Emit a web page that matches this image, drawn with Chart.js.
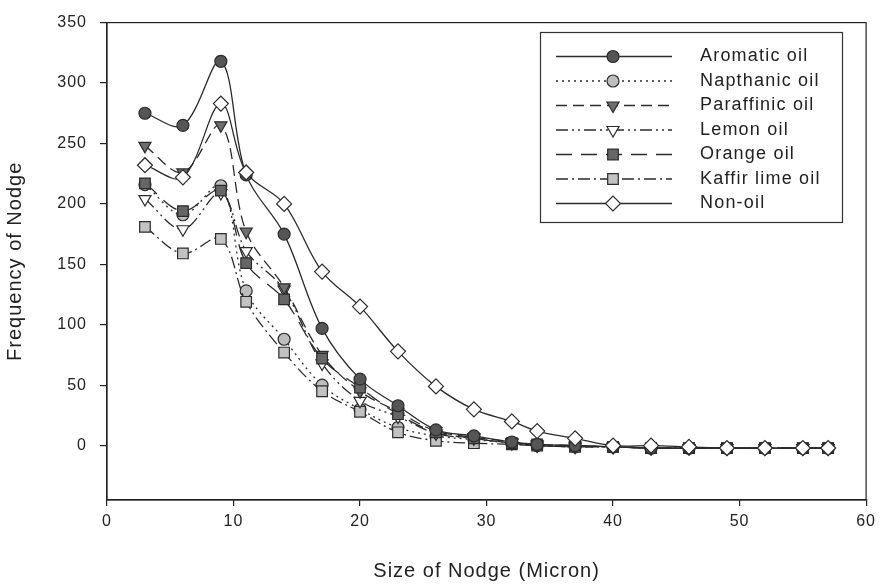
<!DOCTYPE html>
<html>
<head>
<meta charset="utf-8">
<script src="https://cdn.jsdelivr.net/npm/chart.js@4/dist/chart.umd.min.js"></script>
<style>
  html, body { margin: 0; padding: 0; background: #fff; }
  #wrap { width: 882px; height: 587px; position: relative; }
</style>
</head>
<body>
<div id="wrap"><canvas id="c"></canvas></div>
<script>
// Nodge size (micron) at which each frequency was counted
const sizes = [3, 6, 9, 11, 14, 17, 20, 23, 26, 29, 32, 34, 37, 40, 43, 46, 49, 52, 55, 57];

const seriesNames = ['Aromatic oil', 'Napthanic oil', 'Paraffinic oil', 'Lemon oil', 'Orange oil', 'Kaffir lime oil', 'Non-oil'];

const aromatic   = [275, 265, 318, 224, 175, 97, 55, 33, 13, 8, 3, 1, 0, -1, -2, -2, -2, -2, -2, -2];
const napthanic  = [216, 191, 215, 128, 88, 50, 30, 15, 8, 5, 2, 0, -1, -1, -2, -2, -2, -2, -2, -2];
const paraffinic = [248, 226, 265, 177, 131, 75, 45, 28, 12, 7, 3, 1, 0, -1, -2, -2, -2, -2, -2, -2];
const lemon      = [204, 179, 209, 161, 129, 68, 37, 24, 10, 6, 2, 0, -1, -1, -2, -2, -2, -2, -2, -2];
const orange     = [217, 194, 211, 151, 121, 72, 48, 26, 11, 6, 2, 1, 0, -1, -2, -2, -2, -2, -2, -2];
const kaffirLime = [181, 159, 171, 119, 77, 45, 28, 11, 4, 2, 1, 0, -1, -1, -2, -2, -2, -2, -2, -2];
const nonOil     = [232, 222, 283, 226, 200, 144, 115, 78, 49, 30, 20, 12, 6, 0, 0, -1, -2, -2, -2, -2];

const xTickStep = 10;
const yTickStep = 50;

const seriesValues = [aromatic, napthanic, paraffinic, lemon, orange, kaffirLime, nonOil];

// Line and marker look for each series (grey-scale print style); z: lower sits on top
const LINE = '#2b2b2b';
const looks = [
  { dash: [],                    point: 'circle',   rot: 0,   r: 6,   fill: '#555555', z: 1 },
  { dash: [2, 4],                point: 'circle',   rot: 0,   r: 6,   fill: '#bdbdbd', z: 6 },
  { dash: [11, 6],               point: 'triangle', rot: 180, r: 7,   fill: '#6e6e6e', z: 3 },
  { dash: [12, 4, 2, 4, 2, 4],   point: 'triangle', rot: 180, r: 7,   fill: '#ffffff', z: 4 },
  { dash: [16, 9],               point: 'rect',     rot: 0,   r: 7.5, fill: '#666666', z: 2 },
  { dash: [12, 4, 2, 4],         point: 'rect',     rot: 0,   r: 7.5, fill: '#c2c2c2', z: 5 },
  { dash: [],                    point: 'rectRot',  rot: 0,   r: 7.5, fill: '#ffffff', z: 0 }
];

const datasets = seriesNames.map((name, i) => ({
  label: name,
  data: sizes.map((x, k) => ({ x: x, y: seriesValues[i][k] })),
  order: looks[i].z,
  borderColor: LINE,
  borderWidth: 1.3,
  borderDash: looks[i].dash,
  tension: 0.35,
  fill: false,
  pointStyle: looks[i].point,
  rotation: looks[i].rot,
  pointRadius: looks[i].r,
  pointBackgroundColor: looks[i].fill,
  pointBorderColor: LINE,
  pointBorderWidth: 1.2
}));

Chart.defaults.font.family = '"Liberation Sans", Arial, sans-serif';
Chart.defaults.color = '#222';

// slightly wide lettering for all canvas text
const spacing = {
  id: 'spacing',
  beforeUpdate(chart) { chart.ctx.letterSpacing = '1px'; },
  beforeDraw(chart) { chart.ctx.letterSpacing = '1px'; }
};

// closed frame around the plotting area
const frame = {
  id: 'frame',
  afterDraw(chart) {
    const { ctx, chartArea: a } = chart;
    ctx.save();
    ctx.strokeStyle = '#222';
    ctx.lineWidth = 1.2;
    ctx.strokeRect(a.left, a.top, a.right - a.left, a.bottom - a.top);
    ctx.restore();
  }
};

// boxed legend with a long line sample and the marker in its middle
const boxLegend = {
  id: 'boxLegend',
  afterDraw(chart) {
    const ctx = chart.ctx;
    const bx = 540, by = 32, bw = 302, bh = 190;
    ctx.save();
    ctx.strokeStyle = '#333';
    ctx.lineWidth = 1.2;
    ctx.strokeRect(bx + 0.5, by + 0.5, bw, bh);
    const x0 = 556, x1 = 672, xm = 613, tx = 700;
    chart.data.datasets.forEach((ds, i) => {
      const y = 56.5 + i * 24.5;
      ctx.save();
      ctx.strokeStyle = ds.borderColor;
      ctx.lineWidth = ds.borderWidth;
      ctx.setLineDash(ds.borderDash);
      ctx.beginPath();
      ctx.moveTo(x0, y);
      ctx.lineTo(x1, y);
      ctx.stroke();
      ctx.setLineDash([]);
      ctx.fillStyle = ds.pointBackgroundColor;
      ctx.strokeStyle = ds.pointBorderColor;
      ctx.lineWidth = ds.pointBorderWidth;
      Chart.helpers.drawPoint(ctx, {
        pointStyle: ds.pointStyle,
        rotation: ds.rotation,
        radius: ds.pointRadius,
        borderWidth: ds.pointBorderWidth
      }, xm, y);
      ctx.restore();
      ctx.fillStyle = '#222';
      ctx.font = '18px "Liberation Sans", Arial, sans-serif';
      ctx.letterSpacing = '1.2px';
      ctx.textBaseline = 'middle';
      ctx.textAlign = 'left';
      ctx.fillText(ds.label, tx, y);
    });
    ctx.restore();
  }
};

new Chart(document.getElementById('c'), {
  type: 'line',
  data: { datasets: datasets },
  plugins: [spacing, frame, boxLegend],
  options: {
    responsive: true,
    maintainAspectRatio: false,
    animation: false,
    devicePixelRatio: 1,
    layout: { padding: { top: 15, right: 14, bottom: 0, left: 0 } },
    plugins: {
      legend: { display: false },
      tooltip: { enabled: false }
    },
    scales: {
      x: {
        type: 'linear',
        min: 0,
        max: 60,
        ticks: { stepSize: xTickStep, color: '#222', padding: 6, font: { size: 16 }, maxRotation: 0 },
        grid: { drawOnChartArea: false, drawTicks: true, tickLength: 6, color: '#222', lineWidth: 1.2 },
        border: { color: '#222', width: 1.2 },
        title: {
          display: true,
          text: 'Size of Nodge (Micron)',
          color: '#222',
          font: { size: 20 },
          padding: { top: 0, bottom: 4 }
        },
        afterFit(s) { s.height = 87; }
      },
      y: {
        type: 'linear',
        min: -45,
        max: 350,
        ticks: { stepSize: yTickStep, color: '#222', padding: 13, font: { size: 16 } },
        afterBuildTicks(s) { s.ticks = s.ticks.filter(t => t.value >= 0); },
        grid: { drawOnChartArea: false, drawTicks: true, tickLength: 7, color: '#222', lineWidth: 1.2 },
        border: { color: '#222', width: 1.2 },
        title: {
          display: true,
          text: 'Frequency of Nodge',
          color: '#222',
          font: { size: 20 },
          padding: { top: 3, bottom: 0 }
        },
        afterFit(s) { s.width = 107; }
      }
    }
  }
});
</script>
</body>
</html>
